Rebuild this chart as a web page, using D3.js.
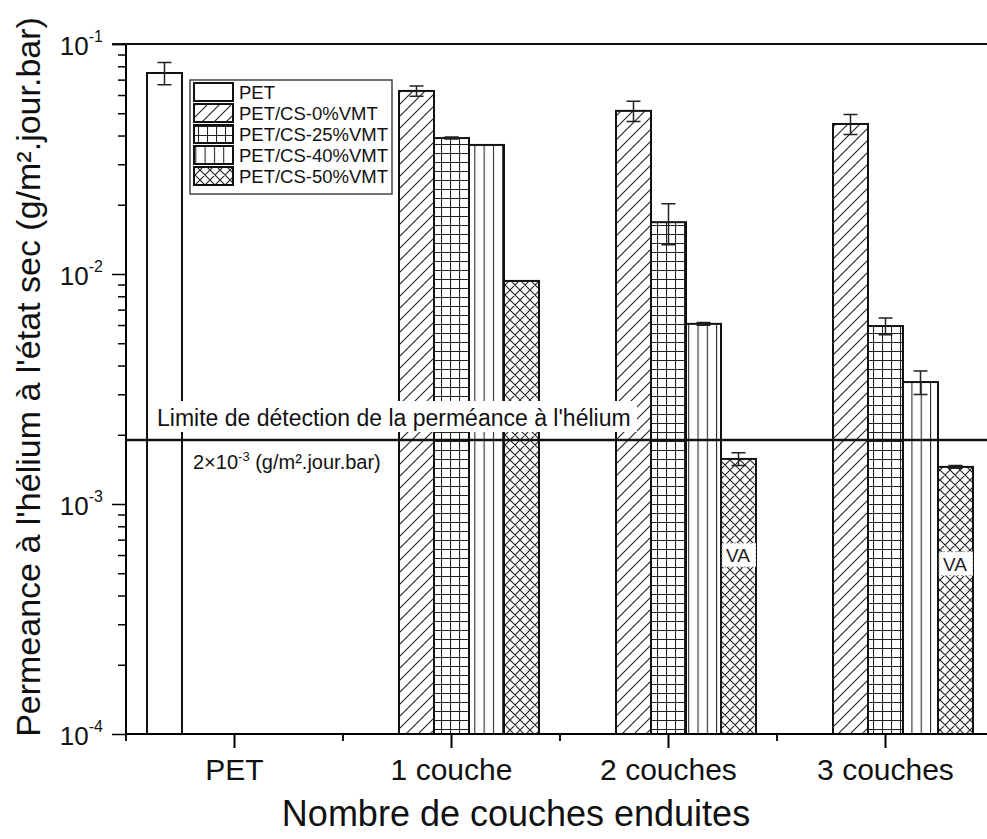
<!DOCTYPE html>
<html><head><meta charset="utf-8">
<script src="https://cdn.jsdelivr.net/npm/d3@7"></script>
<style>body{margin:0;background:#fff;} svg{display:block;font-family:"Liberation Sans",Arial,sans-serif;}</style>
</head><body><svg id="c" width="987" height="839"></svg>
<script>
// ---- data ----
const categories = ["PET", "1 couche", "2 couches", "3 couches"];
const seriesNames = ["PET", "PET/CS-0%VMT", "PET/CS-25%VMT", "PET/CS-40%VMT", "PET/CS-50%VMT"];
const valPET  = [0.0748, null, null, null];
const val0    = [null, 0.0625, 0.0512, 0.0449];
const val25   = [null, 0.0390, 0.0168, 0.00594];
const val40   = [null, 0.0364, 0.00607, 0.00339];
const val50   = [null, 0.00933, 0.00157, 0.00145];
const errPET  = [0.0083, 0, 0, 0];
const err0    = [0, 0.0032, 0.0052, 0.0045];
const err25   = [0, 0.0004, 0.0034, 0.0005];
const err40   = [0, 0, 0.00008, 0.0004];
const err50   = [0, 0, 0.0001, 0.00002];
const yTickExps = [-1, -2, -3, -4];
const detectionLimit = 1.9e-3;
const detectionText = "Limite de détection de la perméance à l'hélium";
const vaCategories = ["2 couches", "3 couches"];
const vaValues = [6.0e-4, 5.5e-4];
const xTitle = "Nombre de couches enduites";
const yTitle = "Permeance à l'hélium à l'état sec (g/m².jour.bar)";

(function () {
const allVals = [valPET, val0, val25, val40, val50];
const allErrs = [errPET, err0, err25, err40, err50];
const patternIds = ["pNone", "pDiag", "pGrid", "pVert", "pCross"];

const svg = d3.select("#c");
const pLeft = 126, pTop = 44, pBottom = 734, band = 217;
const x = d3.scaleBand().domain(categories).range([pLeft, pLeft + band * categories.length]).padding(0);
const x1 = d3.scaleBand().domain(seriesNames).range([21, 196]).padding(0);
const y = d3.scaleLog().domain([1e-4, 1e-1]).range([pBottom, pTop]);

// patterns
const defs = svg.append("defs");
function pat(id, w, h, draw) {
  const p = defs.append("pattern").attr("id", id).attr("patternUnits", "userSpaceOnUse")
    .attr("width", w).attr("height", h);
  p.append("rect").attr("width", w).attr("height", h).attr("fill", "#fff");
  draw(p);
}
pat("pNone", 10, 10, p => {});
pat("pDiag", 12, 12, p => {
  p.append("path").attr("d", "M-3,15 L15,-3 M-3,3 L3,-3 M9,15 L15,9").attr("stroke", "#222").attr("stroke-width", 1.1);
});
pat("pGrid", 9, 9, p => {
  p.append("path").attr("d", "M0,0.5 H9 M0.5,0 V9").attr("stroke", "#222").attr("stroke-width", 1.1);
});
pat("pVert", 9.3, 10, p => {
  p.append("path").attr("d", "M0.5,0 V10").attr("stroke", "#222").attr("stroke-width", 1.1);
});
pat("pCross", 10, 10, p => {
  p.append("path").attr("d", "M0,0 L10,10 M10,0 L0,10 M-1,9 L1,11 M9,-1 L11,1 M-1,1 L1,-1 M9,11 L11,9").attr("stroke", "#222").attr("stroke-width", 1.1);
});

// bars
const barData = [];
seriesNames.forEach((s, si) => {
  categories.forEach((c, ci) => {
    const v = allVals[si][ci];
    if (v != null) barData.push({ s, si, c, v, e: allErrs[si][ci] });
  });
});
svg.append("g").selectAll("rect").data(barData).join("rect")
  .attr("x", d => x(d.c) + x1(d.s))
  .attr("y", d => y(d.v))
  .attr("width", x1.bandwidth())
  .attr("height", d => pBottom - y(d.v))
  .attr("fill", d => `url(#${patternIds[d.si]})`)
  .attr("stroke", "#111").attr("stroke-width", 2);

// error bars
const eb = svg.append("g").attr("stroke", "#222").attr("stroke-width", 1.5).attr("fill", "none");
barData.filter(d => d.e > 0).forEach(d => {
  const cx = x(d.c) + x1(d.s) + x1.bandwidth() / 2;
  const y1 = y(d.v + d.e), y2 = y(d.v - d.e);
  eb.append("path").attr("d", `M${cx},${y1} V${y2} M${cx - 7},${y1} H${cx + 7} M${cx - 7},${y2} H${cx + 7}`);
});

// VA labels inside bars
const vaG = svg.append("g");
vaCategories.forEach((c, i) => {
  const bx = x(c) + x1(seriesNames[4]);
  const cy = y(vaValues[i]);
  const cp = "clipVA" + i;
  defs.append("clipPath").attr("id", cp).append("rect").attr("x", bx).attr("y", cy - 20).attr("width", x1.bandwidth()).attr("height", 40);
  const g = vaG.append("g").attr("clip-path", `url(#${cp})`);
  g.append("rect").attr("x", bx + 1).attr("y", cy - 12).attr("width", x1.bandwidth() - 1).attr("height", 24)
    .attr("fill", "#fff").attr("stroke", "#999").attr("stroke-dasharray", "2,2").attr("stroke-width", 1);
  g.append("text").attr("x", bx + 5).attr("y", cy + 7).attr("font-size", 19).attr("fill", "#222").text("VA");
});

// detection label with white background
svg.append("rect").attr("x", 150).attr("y", 401).attr("width", 487).attr("height", 31).attr("fill", "#fff");
svg.append("text").attr("x", 157).attr("y", 426).attr("font-size", 23).attr("fill", "#111").text(detectionText);

// detection line
svg.append("line").attr("x1", pLeft).attr("x2", 987).attr("y1", y(detectionLimit)).attr("y2", y(detectionLimit))
  .attr("stroke", "#111").attr("stroke-width", 2.5);
const dl = svg.append("text").attr("x", 193).attr("y", 469).attr("font-size", 20).attr("fill", "#111");
dl.append("tspan").text("2×10");
dl.append("tspan").attr("font-size", 13).attr("dy", -8).text("-3");
dl.append("tspan").attr("dy", 8).text(" (g/m².jour.bar)");

// y axis
const yTickVals = d3.range(-4, 0).flatMap(e => d3.range(1, 10).map(k => k * Math.pow(10, e))).concat([1e-1]);
const yAxis = d3.axisLeft(y).tickValues(yTickVals).tickSize(8).tickFormat("");
const yg = svg.append("g").attr("transform", `translate(${pLeft},0)`).call(yAxis);
yg.select(".domain").attr("stroke-width", 2).attr("d", `M0,${pBottom}V${pTop}`);
yg.selectAll(".tick line").attr("stroke-width", 1.5)
  .attr("x2", d => Math.abs(Math.log10(d) - Math.round(Math.log10(d))) < 1e-9 ? -14 : -8);
yTickExps.forEach(e => {
  const t = svg.append("text").attr("x", 103).attr("y", y(Math.pow(10, e)) + 11).attr("text-anchor", "end")
    .attr("font-size", 26).attr("fill", "#111");
  t.append("tspan").text("10");
  t.append("tspan").attr("font-size", 16).attr("dy", -13).text(String(e));
});

// top frame line
svg.append("line").attr("x1", pLeft - 14).attr("x2", 987).attr("y1", pTop).attr("y2", pTop).attr("stroke", "#111").attr("stroke-width", 2);

// x axis
const xAxis = d3.axisBottom(x).tickSize(14).tickFormat("");
const xg = svg.append("g").attr("transform", `translate(0,${pBottom})`).call(xAxis);
xg.select(".domain").attr("stroke-width", 2).attr("d", `M${pLeft - 1},0H987`);
xg.selectAll(".tick line").attr("stroke-width", 2);
d3.range(categories.length + 1).forEach(i => {
  const xp = pLeft + i * band;
  xg.append("line").attr("x1", xp).attr("x2", xp).attr("y1", 0).attr("y2", 7).attr("stroke", "#111").attr("stroke-width", 2);
});
svg.append("g").selectAll("text").data(categories).join("text")
  .attr("x", d => x(d) + x.bandwidth() / 2).attr("y", 780).attr("text-anchor", "middle")
  .attr("font-size", 30).attr("fill", "#111").text(d => d);

// titles
svg.append("text").attr("x", 516).attr("y", 826).attr("text-anchor", "middle").attr("font-size", 36).attr("fill", "#111").text(xTitle);
svg.append("text").attr("transform", "translate(40,377) rotate(-90)").attr("text-anchor", "middle")
  .attr("font-size", 34).attr("fill", "#111").text(yTitle);

// legend
const lg = svg.append("g");
lg.append("rect").attr("x", 190).attr("y", 80).attr("width", 202).attr("height", 114).attr("fill", "#fff")
  .attr("stroke", "#444").attr("stroke-width", 1.5);
seriesNames.forEach((s, i) => {
  const by = 99 + i * 21;
  lg.append("rect").attr("x", 194).attr("y", by - 16).attr("width", 39).attr("height", 18)
    .attr("fill", `url(#${patternIds[i]})`).attr("stroke", "#111").attr("stroke-width", 2);
  lg.append("text").attr("x", 239).attr("y", by).attr("font-size", 18.5).attr("fill", "#111").text(s);
});
})();
</script></body></html>
